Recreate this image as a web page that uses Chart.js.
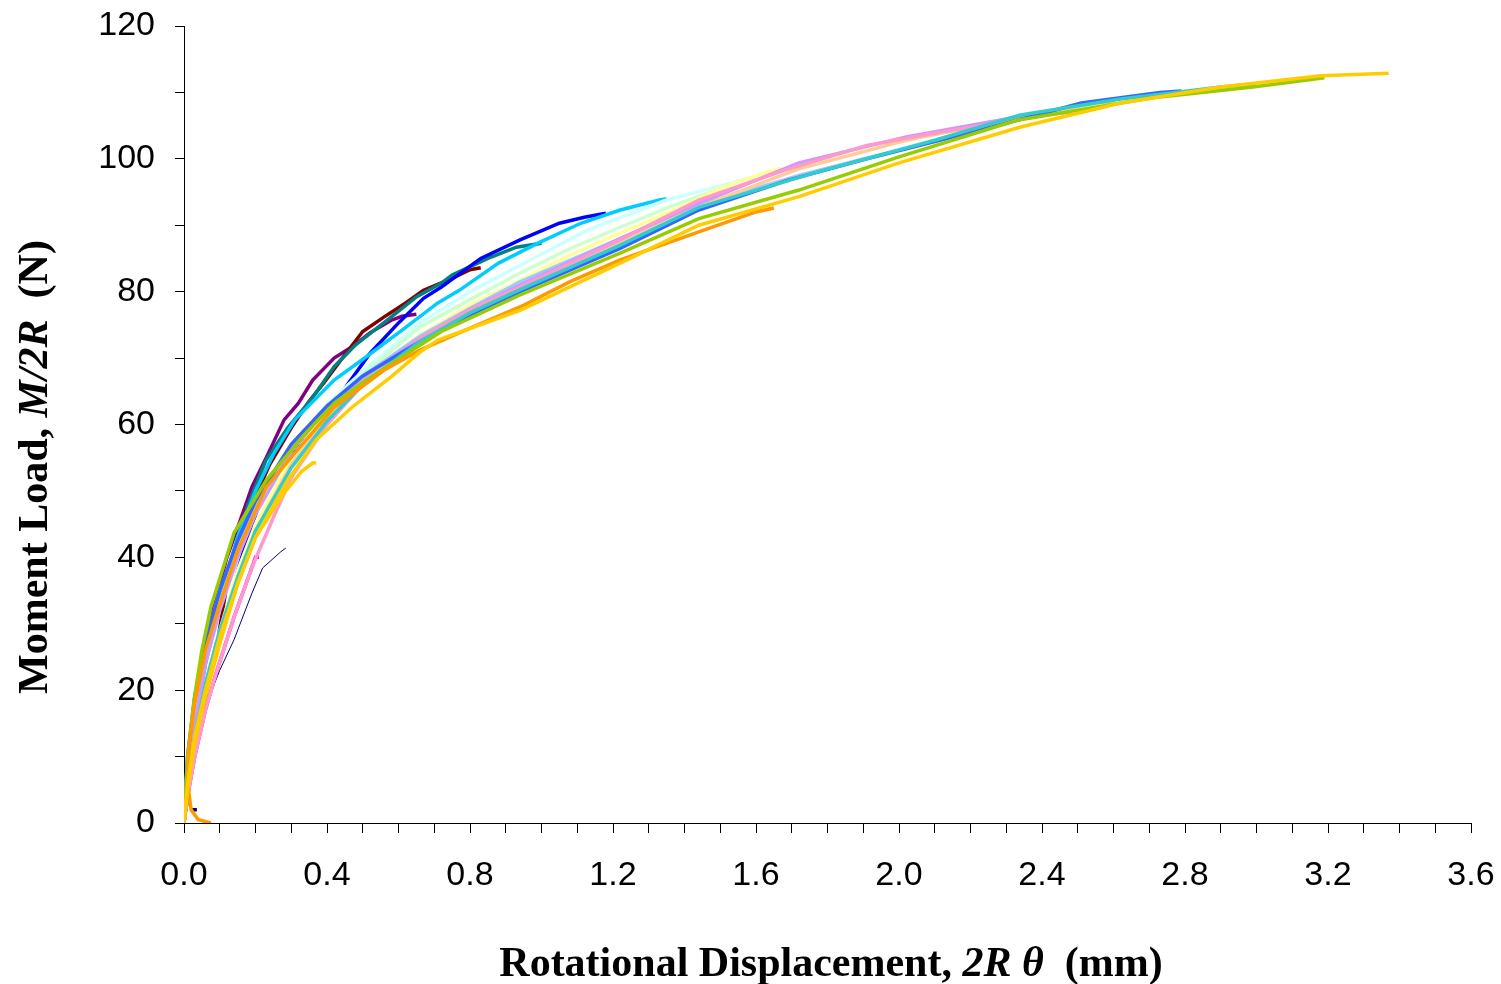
<!DOCTYPE html>
<html>
<head>
<meta charset="utf-8">
<script src="https://cdn.jsdelivr.net/npm/chart.js@4/dist/chart.umd.min.js"></script>
<style>
html,body{margin:0;padding:0;background:#fff;}
#wrap{width:1501px;height:984px;}
</style>
</head>
<body>
<div id="wrap"><canvas id="c" width="1501" height="984"></canvas></div>
<script>
// ---- data (x = rotational displacement 2Rθ in mm, y = moment load M/2R in N) ----
const xTickLabels = ["0.0","0.4","0.8","1.2","1.6","2.0","2.4","2.8","3.2","3.6"];
const yTickLabels = ["0","20","40","60","80","100","120"];

const sNavyThin = [[0,0],[0.01,2.4],[0.02,7.5],[0.036,12.5],[0.05,15],[0.075,19.6],[0.1,23],[0.14,27.6],[0.19,34.6],[0.22,38.4],[0.27,40.8],[0.285,41.4]];
const sNavyShort = [[0.022,2],[0.036,2]];
const sMagenta = [[0,0],[0.01,4],[0.03,10],[0.06,17],[0.09,22.6],[0.14,31],[0.19,38.5],[0.2,40],[0.21,40]];
const sPurple = [[0,0],[0.01,8],[0.02,14],[0.04,22],[0.07,30],[0.1,36],[0.12,40],[0.16,46],[0.19,50.6],[0.23,55],[0.28,60.7],[0.32,63.2],[0.36,66.7],[0.42,70],[0.47,71.7],[0.52,73.8],[0.58,75.7],[0.61,76.3],[0.65,76.6]];
const sDarkRed = [[0,0],[0.01,5],[0.03,12],[0.06,19],[0.09,26],[0.12,36],[0.15,42],[0.19,48],[0.24,54],[0.3,59.5],[0.35,63.5],[0.39,66.2],[0.45,70.5],[0.5,74],[0.56,76.2],[0.62,78.3],[0.67,80.2],[0.75,82],[0.8,83.3],[0.83,83.6]];
const sTeal = [[0,0],[0.01,7],[0.03,15],[0.06,24],[0.1,33],[0.14,41],[0.18,48],[0.23,54.7],[0.29,59.5],[0.355,63.7],[0.42,68.7],[0.48,72],[0.58,76.2],[0.65,79.2],[0.72,81.3],[0.75,82.5],[0.85,85],[0.93,86.7],[1.0,87.3]];
const sBlue = [[0,0],[0.01,5],[0.03,12],[0.06,20],[0.09,27],[0.12,31],[0.15,38],[0.19,45],[0.23,50.6],[0.26,52.5],[0.33,57.7],[0.44,64.7],[0.52,70.7],[0.6,75.3],[0.67,79],[0.72,80.7],[0.83,85],[0.94,87.8],[1.05,90.3],[1.12,91.2],[1.18,91.8]];
const sSkyBlue = [[0,0],[0.01,9],[0.03,17],[0.06,26],[0.1,34],[0.15,43],[0.2,50],[0.25,55.5],[0.31,60.7],[0.42,66.7],[0.51,70.2],[0.61,74.2],[0.71,78.3],[0.77,80.2],[0.88,84.3],[0.99,87.3],[1.11,90.3],[1.22,92.3],[1.33,93.8],[1.35,94]];
const sLightCyan = [[0,0],[0.01,8],[0.03,16],[0.06,25],[0.1,33],[0.15,41],[0.2,47.5],[0.3,56.5],[0.4,63],[0.5,68],[0.66,75.3],[0.8,80],[0.97,84.8],[1.13,89.3],[1.35,93.8],[1.42,94.8],[1.56,96.8],[1.6,97.2]];
const sLightGreen = [[0,0],[0.01,9],[0.03,17],[0.06,25],[0.1,33],[0.15,41],[0.2,47],[0.3,56],[0.4,62.5],[0.5,67.5],[0.66,74.7],[0.8,78.8],[0.94,82.8],[1.08,86.5],[1.22,89.7],[1.36,92.8],[1.5,95.5],[1.56,96.8],[1.6,97.3]];
const sLightYellow = [[0,0],[0.01,6],[0.03,13],[0.06,21],[0.1,29],[0.15,38],[0.2,45],[0.3,55],[0.4,61.8],[0.5,67],[0.66,73.5],[0.8,78],[0.94,81.7],[1.08,85.5],[1.22,88.8],[1.36,92],[1.5,95.6],[1.63,98],[1.67,98.6]];
const sLightBlue = [[0,0],[0.01,10],[0.03,19],[0.06,27],[0.1,35],[0.15,42],[0.2,48],[0.3,56.5],[0.4,62.5],[0.5,67.3],[0.66,73.3],[0.8,77.5],[0.94,81.5],[1.22,88],[1.44,93],[1.72,97.5],[1.9,100],[2.0,101.3]];
const sLavender = [[0,0],[0.01,7],[0.03,15],[0.06,24],[0.1,32],[0.15,40],[0.2,46.5],[0.3,56],[0.4,62.5],[0.5,67],[0.66,73],[0.8,77.3],[0.94,81],[1.22,88],[1.44,93.3],[1.72,99.4],[2.02,103.3],[2.33,106.3],[2.48,107]];
const sPeach = [[0,0],[0.01,5],[0.03,12],[0.06,20],[0.1,28],[0.15,36.5],[0.2,44],[0.3,54],[0.4,61],[0.5,66.5],[0.66,72.8],[0.8,77],[0.94,80.8],[1.22,87.3],[1.44,92.8],[1.72,98.5],[2.02,102.8],[2.3,105.8],[2.55,108.4],[2.6,108.6]];
const sPink = [[0,0],[0.01,4],[0.03,10],[0.06,17],[0.09,22.6],[0.14,31],[0.19,38.5],[0.25,46],[0.3,52],[0.4,60],[0.5,66],[0.66,73],[0.8,77.3],[0.94,80.7],[1.22,87.8],[1.44,93.8],[1.68,98.3],[1.91,102],[2.1,103.9],[2.28,105.4]];
const sRoyalBlue = [[0,0],[0.01,10],[0.03,19],[0.06,27],[0.1,35],[0.15,42.5],[0.2,48.5],[0.3,57],[0.4,62.8],[0.5,67.3],[0.66,72.5],[0.8,76.5],[0.94,80],[1.22,86.5],[1.44,92.3],[1.69,96.8],[1.91,100],[2.1,102.6],[2.26,104.8],[2.51,108.4],[2.73,110],[2.79,110.2]];
const sTurquoise = [[0,0],[0.01,6],[0.03,13],[0.06,21],[0.1,29],[0.15,37],[0.2,44],[0.3,53.5],[0.4,60.5],[0.5,66],[0.66,72.5],[0.8,76.8],[0.94,80.3],[1.22,87],[1.44,92.7],[1.77,98],[2.1,102.8],[2.34,106.6],[2.62,109],[2.9,110.8],[3.0,111.3]];
const sYellowGreen = [[0,0],[0.01,10],[0.028,18.5],[0.05,26],[0.075,32.5],[0.11,38.5],[0.14,43.7],[0.23,51.6],[0.33,58.1],[0.42,63.2],[0.51,66.7],[0.61,70.2],[0.72,74],[0.94,79.5],[1.22,85.8],[1.44,91],[1.72,95.3],[2.0,100.3],[2.33,105.8],[2.71,109.2],[2.99,110.8],[3.19,112.2]];
const sOrange = [[0.075,0],[0.04,0.5],[0.02,2],[0.01,6],[0.015,12],[0.03,18],[0.06,26],[0.1,33],[0.15,41],[0.23,50.6],[0.31,55.7],[0.42,62.6],[0.56,68.2],[0.66,71.2],[0.8,74.5],[0.94,77.7],[1.08,81.5],[1.22,84.8],[1.44,89],[1.6,92],[1.65,92.6]];
const sGoldShort = [[0,0],[0.01,5],[0.03,12],[0.06,19],[0.1,27],[0.15,36],[0.2,43],[0.28,49.7],[0.33,53],[0.36,54.2],[0.37,54.2]];
const sGoldLong = [[0,0],[0.01,6],[0.03,13],[0.06,20],[0.1,28],[0.15,36],[0.2,43],[0.29,51.6],[0.37,57.7],[0.47,62.6],[0.58,67.2],[0.66,70.9],[0.71,72.7],[0.94,77.2],[1.22,84.3],[1.44,90],[1.72,94.3],[2.0,99.4],[2.34,104.8],[2.62,108.4],[2.9,110.8],[3.18,112.5],[3.37,112.9]];

// listed bottom-to-top (later entries are painted over earlier ones)
const seriesList = [sNavyThin, sNavyShort, sMagenta, sPurple, sDarkRed, sTeal, sBlue, sSkyBlue, sLightCyan, sLightGreen, sLightYellow, sLightBlue, sPeach, sLavender, sPink, sRoyalBlue, sTurquoise, sYellowGreen, sOrange, sGoldShort, sGoldLong];
const seriesColors = ["#000080","#000080","#FF00FF","#800080","#800000","#008080","#0000FF","#00CCFF","#CCFFFF","#CCFFCC","#FFFF99","#99CCFF","#FFCC99","#CC99FF","#FF99CC","#3366FF","#33CCCC","#99CC00","#FF9900","#FFCC00","#FFCC00"];
const seriesWidths = [1,3.5,3.5,3.5,3.5,3.5,3.5,3.5,3.5,3.5,3.5,3.5,3.5,3.5,3.5,3.5,3.5,3.5,3.5,3.5,3.5];

const datasets = seriesList.map((s, i) => ({
  data: s.map(p => ({x: p[0], y: p[1]})),
  showLine: true,
  order: seriesList.length - i,
  borderColor: seriesColors[i],
  backgroundColor: seriesColors[i],
  borderWidth: seriesWidths[i],
  pointRadius: 0,
  tension: 0,
  fill: false
}));

const titlePlugin = {
  id: 'titles',
  afterDraw(chart) {
    const ctx = chart.ctx;
    ctx.save();
    ctx.fillStyle = '#000';
    ctx.textBaseline = 'alphabetic';
    const drawParts = (parts) => {
      let total = 0;
      parts.forEach(p => { ctx.font = p[1]; total += ctx.measureText(p[0]).width; });
      let x = -total / 2;
      parts.forEach(p => { ctx.font = p[1]; ctx.fillText(p[0], x, 0); x += ctx.measureText(p[0]).width; });
    };
    const B = 'bold 42px "Liberation Serif", "Times New Roman", serif';
    const BI = 'italic bold 42px "Liberation Serif", "Times New Roman", serif';
    // x-axis title
    ctx.save();
    ctx.translate(831, 976);
    drawParts([["Rotational Displacement, ", B], ["2R", BI], [" ", B], ["θ", BI], ["  (mm)", B]]);
    ctx.restore();
    // y-axis title
    ctx.save();
    ctx.translate(47, 467);
    ctx.rotate(-Math.PI / 2);
    drawParts([["Moment Load, ", B], ["M/2R", BI], ["  (N)", B]]);
    ctx.restore();
    ctx.restore();
  }
};

const tickFont = {family: '"Liberation Sans", Arial, sans-serif', size: 34};
const zeroPad = (s) => { s.paddingLeft = 0; s.paddingRight = 0; s.paddingTop = 0; s.paddingBottom = 0; };

new Chart(document.getElementById('c'), {
  type: 'scatter',
  data: {datasets},
  options: {
    responsive: false,
    animation: false,
    layout: {padding: {top: 26, right: 30, left: 0, bottom: 0}},
    plugins: {legend: {display: false}, tooltip: {enabled: false}, title: {display: false}},
    scales: {
      x: {
        type: 'linear', min: 0, max: 3.6,
        ticks: {
          stepSize: 0.1, autoSkip: false, maxRotation: 0, color: '#000', font: tickFont, padding: 22,
          callback: (v) => { const k = Math.round(v * 10); return k % 4 === 0 ? xTickLabels[k / 4] : ''; }
        },
        grid: {drawOnChartArea: false, tickLength: 10, color: '#000', lineWidth: 1},
        border: {color: '#000', width: 1},
        afterFit: (s) => { s.height = 161; zeroPad(s); }
      },
      y: {
        type: 'linear', min: 0, max: 120,
        ticks: {
          stepSize: 10, autoSkip: false, color: '#000', font: tickFont, padding: 20,
          callback: (v) => { const k = Math.round(v / 10); return k % 2 === 0 ? yTickLabels[k / 2] : ''; }
        },
        grid: {drawOnChartArea: false, tickLength: 9, color: '#000', lineWidth: 1},
        border: {color: '#000', width: 1},
        afterFit: (s) => { s.width = 184; zeroPad(s); }
      }
    }
  },
  plugins: [titlePlugin]
});
</script>
</body>
</html>
